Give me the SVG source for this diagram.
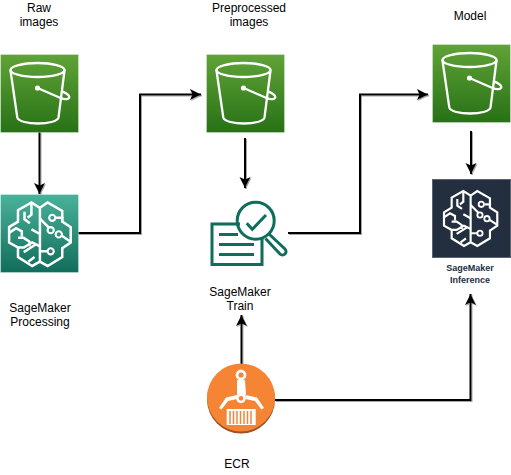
<svg xmlns="http://www.w3.org/2000/svg" width="511" height="475" viewBox="0 0 511 475">
<style>
text{font-family:"Liberation Sans",Arial,sans-serif;font-size:12px;fill:#000;text-anchor:middle}
.b{font-size:9px;font-weight:bold;fill:#232F3E}
.c{fill:none;stroke:#000;stroke-width:2}
.s{fill:none;stroke:#fff;stroke-width:2.300;stroke-linejoin:round;stroke-linecap:round}
.n{fill:none;stroke:#fff;stroke-width:6.500;stroke-linejoin:miter;stroke-linecap:butt}
.t{fill:none;stroke:#116D5B;stroke-width:3}
</style>
<defs>
<linearGradient id="g" x1="0" y1="0" x2="0" y2="1"><stop offset="0" stop-color="#60A337"/><stop offset="1" stop-color="#277116"/></linearGradient>
<linearGradient id="h" x1="0" y1="0" x2="0" y2="1"><stop offset="0" stop-color="#4AB29A"/><stop offset="1" stop-color="#116D5B"/></linearGradient>
<filter id="sh" x="-5%" y="-5%" width="110%" height="110%"><feDropShadow dx="1" dy="1" stdDeviation="0" flood-color="#808080" flood-opacity=".7"/></filter>
<marker id="a" markerUnits="userSpaceOnUse" markerWidth="12" markerHeight="12" refX="11" refY="6" orient="auto"><path d="M0 0.500L11 6L0 11.500L2.500 6Z" fill="#000"/></marker>
<g id="bucket">
<rect x="0" y="0" width="78" height="78" fill="url(#g)" stroke="#fff" stroke-opacity=".3"/>
<ellipse class="s" cx="37" cy="15.500" rx="27" ry="7"/>
<path class="s" d="M10 16L16.800 63C19 71 56 71 58 63L64 16"/>
<path class="s" d="M37 33.500L60 43.500C66 46 70 44 68.500 41.500C67.500 39.500 64 38 62 37"/>
<circle cx="37" cy="33.500" r="2.600" fill="#fff"/>
</g>
<g id="brain">
<path class="n" d="M92 32L112 18L150 40V68L172 82V122L150 137V160L112 183L92 172V32L70 18L35 38V68L12 82V122L35 135V160L72 183L92 172"/>
<path class="n" d="M92 60L116 84M134 58H150V68M148 104L172 120M112 145H92"/>
<circle class="n" cx="124" cy="58" r="8" style="stroke-width:5.500"/><circle class="n" cx="120" cy="90" r="8" style="stroke-width:5.500"/><circle class="n" cx="141" cy="101" r="8" style="stroke-width:5.500"/><circle class="n" cx="120" cy="145" r="8" style="stroke-width:5.500"/>
<path class="n" d="M70 18V50L60 58M52 42V62L66 72M12 97L30 85L45 93V106M92 100L70 88M35 110H50L65 120V132M35 135H50L72 122L92 132M50 147L80 128M62 172L78 160"/>
</g>
</defs>
<g id="connectors" filter="url(#sh)">
<path class="c" marker-end="url(#a)" d="M39.500 132V194"/>
<path class="c" marker-end="url(#a)" d="M78 233H140V94.500H201"/>
<path class="c" marker-end="url(#a)" d="M245 138V188"/>
<path class="c" marker-end="url(#a)" d="M288 233H360V94.500H428"/>
<path class="c" marker-end="url(#a)" d="M471 131V174"/>
<path class="c" marker-end="url(#a)" d="M241.500 365V315"/>
<path class="c" marker-end="url(#a)" d="M275 400H470.500V294"/>
</g>
<g id="raw-images"><use href="#bucket" x="0.500" y="54.500"/><text x="39" y="12">Raw</text><text x="39" y="26">images</text></g>
<g id="sagemaker-processing"><rect x="0.500" y="194.500" width="78" height="78" fill="url(#h)" stroke="#fff" stroke-opacity=".3"/><use href="#brain" transform="translate(4.500 195.500) scale(.385)"/><text x="40" y="312">SageMaker</text><text x="40" y="326">Processing</text></g>
<g id="preprocessed-images"><use href="#bucket" x="206.500" y="54.500"/><text x="249" y="12">Preprocessed</text><text x="249" y="26">images</text></g>
<g id="sagemaker-train">
<path class="t" d="M240 224H212V264.500H262V238"/>
<path class="t" d="M219 234.500H238M219 244.500H254M219 254.500H254"/>
<circle class="t" cx="255.700" cy="220.700" r="18.500"/>
<path class="t" d="M246.700 223.300L252.300 229.300L266 215"/>
<path class="t" d="M269 234L285 249A3.500 3.500 0 0 1 280 254L265.500 238.500" stroke-width="2.500"/>
<text x="240" y="296">SageMaker</text><text x="240" y="310">Train</text>
</g>
<g id="model"><use href="#bucket" x="432.500" y="44.500"/><text x="470" y="20">Model</text></g>
<g id="sagemaker-inference"><rect x="432.500" y="179.500" width="78" height="78" fill="#232F3E" stroke="#5a6470"/><use href="#brain" transform="translate(440 185) scale(.333)"/><text class="b" x="470" y="271">SageMaker</text><text class="b" x="470" y="283">Inference</text></g>
<g id="ecr">
<circle cx="241" cy="399.500" r="34" fill="#9D5025"/><circle cx="241" cy="397.500" r="34" fill="#F58534"/>
<circle cx="241" cy="375" r="4" fill="none" stroke="#fff" stroke-width="2.800"/>
<path d="M237 380H245L246 395H237Z" fill="#fff"/>
<circle cx="241" cy="398.300" r="3.600" fill="#F58534" stroke="#fff" stroke-width="2.500"/>
<path d="M237 395L226 397.500L219 408L221.500 409.500L228 401L237 399ZM245.500 395L257 397.500L264 408L261.500 409.500L255 401L245.500 399Z" fill="#fff"/>
<rect x="226.700" y="409" width="29" height="16" fill="#fff"/>
<path d="M230 411V424M233.500 411V424M237 411V424M240.500 411V424M244 411V424M247.500 411V424M251 411V424" stroke="#F58534" stroke-width="1.500"/>
<text x="237" y="468">ECR</text>
</g>
</svg>
